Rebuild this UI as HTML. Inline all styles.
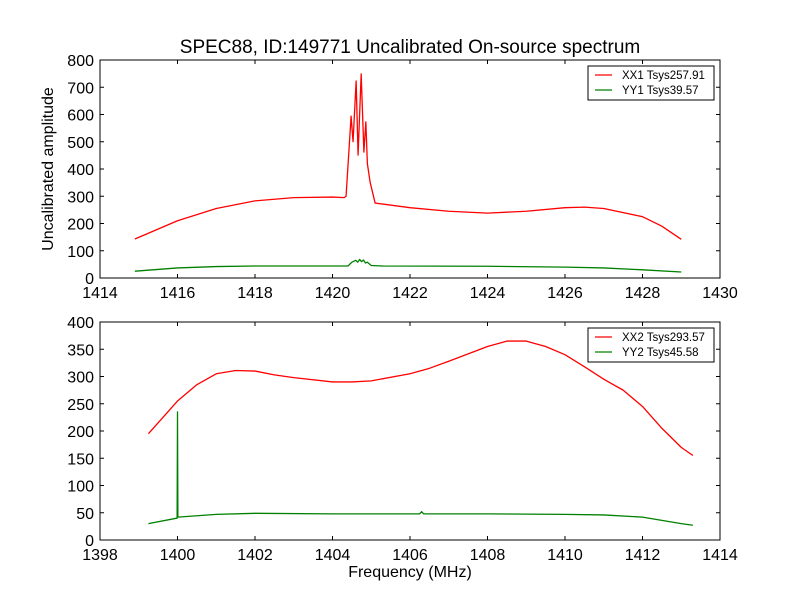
<!DOCTYPE html>
<html><head><meta charset="utf-8"><style>
body{margin:0;background:#fff}
svg text{font-family:"Liberation Sans",sans-serif;fill:#000}
</style></head><body>
<svg id="c" width="800" height="600" xmlns="http://www.w3.org/2000/svg">
<rect width="800" height="600" fill="#fff"/>
<text x="410" y="53" font-size="19" text-anchor="middle">SPEC88, ID:149771 Uncalibrated On-source spectrum</text>
<text x="53" y="169" font-size="16" text-anchor="middle" transform="rotate(-90 53 169)">Uncalibrated amplitude</text>
<text x="410" y="577" font-size="16" text-anchor="middle">Frequency (MHz)</text>
</svg>
<script>
const topFreq=[1414.9,1416,1417,1418,1419,1420,1420.3,1420.35,1420.48,1420.53,1420.61,1420.66,1420.74,1420.81,1420.86,1420.9,1420.97,1421.1,1422,1423,1424,1425,1426,1426.5,1427,1428,1428.5,1429];
const topXX=[143,210,255,283,295,297,295,300,594,500,723,451,749,462,573,420,352,275,258,245,238,245,258,260,255,225,190,142];
const topGreenFreq=[1414.9,1416,1417,1418,1420.4,1420.5,1420.6,1420.65,1420.7,1420.75,1420.8,1420.85,1420.9,1421,1421.3,1424,1426,1427,1428,1429];
const topYY=[25,37,42,44,44,58,65,58,68,60,66,55,58,46,44,43,40,37,30,22];
const botFreq=[1399.25,1400,1400.5,1401,1401.5,1402,1402.5,1403,1404,1404.5,1405,1406,1406.5,1407,1408,1408.5,1409,1409.5,1410,1410.5,1411,1411.5,1412,1412.5,1413,1413.3];
const botXX=[195,255,285,305,311,310,303,298,290,290,292,305,315,328,355,365,365,355,340,318,295,275,245,205,170,155];
const botGreenFreq=[1399.25,1399.98,1399.99,1400.0,1400.01,1401,1402,1404,1406,1406.25,1406.3,1406.35,1408,1410,1411,1412,1413,1413.3];
const botYY=[30,40,40,235,42,47,49,48,48,48,52,48,48,47,46,42,30,27];
const topXTicks=[1414,1416,1418,1420,1422,1424,1426,1428,1430];
const topYTicks=[0,100,200,300,400,500,600,700,800];
const botXTicks=[1398,1400,1402,1404,1406,1408,1410,1412,1414];
const botYTicks=[0,50,100,150,200,250,300,350,400];
const topLegend=["XX1 Tsys257.91","YY1 Tsys39.57"];
const botLegend=["XX2 Tsys293.57","YY2 Tsys45.58"];
const NS="http://www.w3.org/2000/svg";
const svg=document.getElementById('c');
function mk(t,a,p){const e=document.createElementNS(NS,t);for(const k in a)e.setAttribute(k,a[k]);(p||svg).appendChild(e);return e;}
function panel(name,y0,y1,xmin,xmax,ymin,ymax,xt,yt,series,legend){
  const L=100,R=720;
  const sx=v=>L+(v-xmin)/(xmax-xmin)*(R-L);
  const sy=v=>y1-(v-ymin)/(ymax-ymin)*(y1-y0);
  const g=mk('g',{});
  
  
  series.forEach(s=>{
    const pl=mk('polyline',{points:s.x.map((v,i)=>sx(v)+','+sy(s.y[i])).join(' '),fill:'none',stroke:s.c,'stroke-width':1.3,'stroke-linejoin':'round'},g);
    
    
  });
  mk('rect',{x:L,y:y0,width:R-L,height:y1-y0,fill:'none',stroke:'#000','stroke-width':1},g);
  xt.forEach(v=>{const x=sx(v);
    mk('line',{x1:x,x2:x,y1:y1,y2:y1-4,stroke:'#000'},g);
    mk('line',{x1:x,x2:x,y1:y0,y2:y0+4,stroke:'#000'},g);
    const t=mk('text',{x:x,y:y1+20,'font-size':16,'text-anchor':'middle'},g);t.textContent=v;
    
    });
  yt.forEach(v=>{const y=sy(v);
    mk('line',{x1:L,x2:L+4,y1:y,y2:y,stroke:'#000'},g);
    mk('line',{x1:R,x2:R-4,y1:y,y2:y,stroke:'#000'},g);
    const t=mk('text',{x:L-6,y:y+6,'font-size':16,'text-anchor':'end'},g);t.textContent=v;
    
    });
  const lg=mk('g',{},g);
  
  
  mk('rect',{x:588,y:y0+6,width:126,height:34,fill:'#fff',stroke:'#000','stroke-width':1},lg);
  legend.forEach((txt,i)=>{const y=y0+15+i*15;
    mk('line',{x1:595,x2:612,y1:y,y2:y,stroke:series[i].c,'stroke-width':1.2},lg);
    const t=mk('text',{x:622,y:y+4,'font-size':11.5},lg);t.textContent=txt;
    
    });
}
panel('top-panel',60,278,1414,1430,0,800,topXTicks,topYTicks,
  [{x:topFreq,y:topXX,c:'#f00',n:'xx1-line'},{x:topGreenFreq,y:topYY,c:'#008000',n:'yy1-line'}],topLegend);
panel('bottom-panel',322,540,1398,1414,0,400,botXTicks,botYTicks,
  [{x:botFreq,y:botXX,c:'#f00',n:'xx2-line'},{x:botGreenFreq,y:botYY,c:'#008000',n:'yy2-line'}],botLegend);
</script>
</body></html>
